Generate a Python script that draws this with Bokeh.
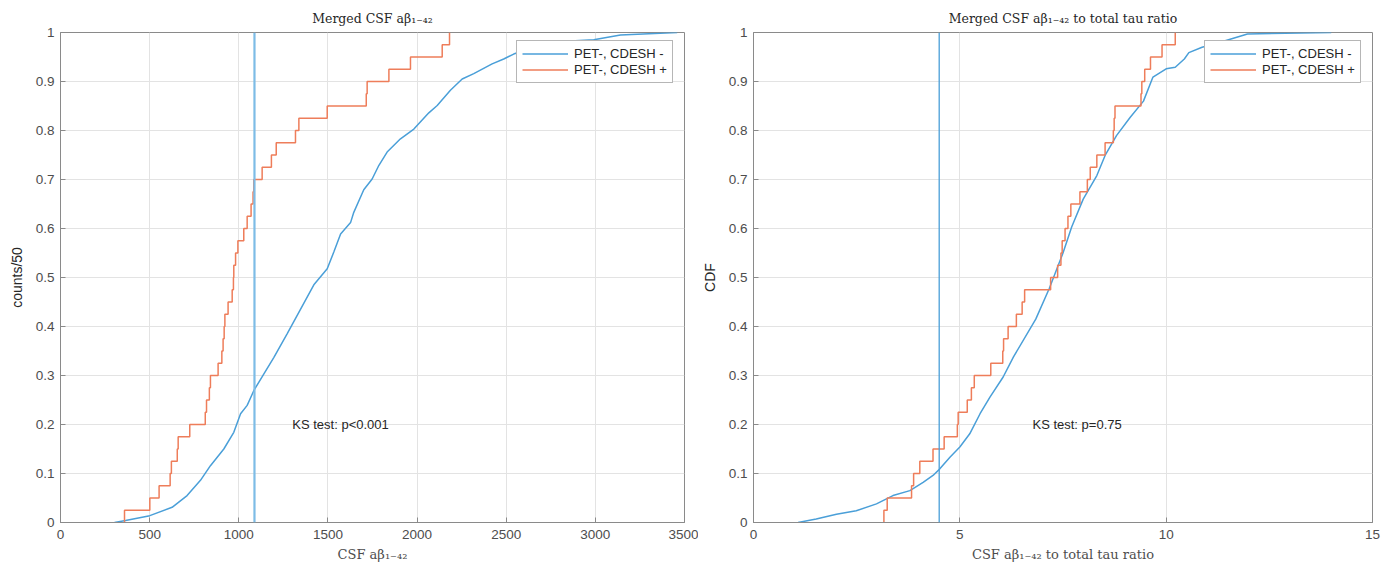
from bokeh.plotting import figure
from bokeh.layouts import row
from bokeh.models import Legend, LegendItem, Span, Label, FixedTicker, Range1d
from bokeh.embed import file_html
from bokeh.resources import INLINE

# ---------------- data ----------------
# Left panel: CSF aβ1-42, PET-, CDESH -  (empirical CDF, traced)
abeta_neg_x = [303, 365, 501, 626, 710, 785, 841, 916, 972, 1010, 1047, 1084, 1140, 1197, 1271,
               1346, 1421, 1496, 1533, 1571, 1627, 1645, 1701, 1748, 1786, 1832, 1907, 1982,
               2066, 2113, 2187, 2253, 2318, 2421, 2486, 2542, 2730, 2991, 3141, 3459]
abeta_neg_y = [0, 0.004, 0.014, 0.031, 0.055, 0.086, 0.116, 0.150, 0.184, 0.222, 0.239, 0.269,
               0.303, 0.337, 0.385, 0.435, 0.485, 0.518, 0.552, 0.589, 0.612, 0.633, 0.679,
               0.701, 0.729, 0.756, 0.783, 0.803, 0.836, 0.851, 0.882, 0.905, 0.916, 0.936,
               0.946, 0.956, 0.980, 0.985, 0.995, 1.0]
# Left panel: PET-, CDESH +  (40 sorted sample values)
abeta_pos = [359, 501, 553, 615, 622, 655, 660, 725, 812, 819, 835, 841, 884, 905, 912, 918,
             922, 940, 963, 970, 972, 982, 995, 1028, 1047, 1069, 1080, 1084, 1131, 1183,
             1210, 1318, 1337, 1496, 1715, 1720, 1842, 1963, 2141, 2182]
abeta_cut = 1088

# Right panel: CSF aβ1-42 / total tau ratio, PET-, CDESH -
ratio_neg_x = [1.08, 1.52, 2.01, 2.49, 2.98, 3.38, 3.79, 4.11, 4.35, 4.51, 4.76, 5.0, 5.24, 5.49,
               5.73, 6.05, 6.30, 6.84, 7.17, 7.50, 7.71, 7.99, 8.32, 8.52, 8.80, 9.13, 9.45,
               9.68, 10.0, 10.22, 10.44, 10.55, 10.87, 11.31, 11.97, 14.0]
ratio_neg_y = [0, 0.007, 0.017, 0.024, 0.038, 0.055, 0.065, 0.082, 0.096, 0.109, 0.133, 0.154,
               0.181, 0.222, 0.256, 0.297, 0.338, 0.415, 0.478, 0.55, 0.603, 0.66, 0.708,
               0.749, 0.79, 0.827, 0.86, 0.909, 0.926, 0.929, 0.946, 0.959, 0.97, 0.98,
               0.997, 1.0]
ratio_pos = [3.16, 3.24, 3.83, 3.88, 4.03, 4.35, 4.62, 4.94, 4.96, 5.18, 5.28, 5.35, 5.75,
             6.04, 6.06, 6.17, 6.37, 6.51, 6.57, 7.20, 7.37, 7.45, 7.48, 7.55, 7.62, 7.69,
             7.91, 8.09, 8.16, 8.32, 8.52, 8.72, 8.74, 8.76, 9.39, 9.41, 9.48, 9.62, 9.90, 10.22]
ratio_cut = 4.5

series_labels = ["PET-, CDESH -", "PET-, CDESH +"]
y_ticks = [0, 0.1, 0.2, 0.3, 0.4, 0.5, 0.6, 0.7, 0.8, 0.9, 1]
y_tick_labels = ["0", "0.1", "0.2", "0.3", "0.4", "0.5", "0.6", "0.7", "0.8", "0.9", "1"]
abeta_x_ticks = [0, 500, 1000, 1500, 2000, 2500, 3000, 3500]
ratio_x_ticks = [0, 5, 10, 15]

BLUE = "#4a9fd8"
RED = "#ee7d5a"
CUT_BLUE = "#7dbce6"
TXT = "#262626"
TICK_TXT = "#4d4d4d"
AX = "#8a8a8a"
GRID = "#e3e3e3"


def ecdf_steps(vals):
    n = len(vals)
    xs = [vals[0]] + list(vals)
    ys = [0.0] + [(i + 1) / n for i in range(n)]
    return xs, ys


def panel(title, xlabel, ylabel, xmax, xticks, neg_x, neg_y, pos_vals, cut, cut_w,
          ks_text, ks_x, frame_w, border_left, border_right):
    p = figure(frame_width=frame_w, frame_height=490,
               x_range=Range1d(0, xmax), y_range=Range1d(0, 1),
               output_backend="svg", toolbar_location=None,
               min_border_left=border_left, min_border_right=border_right,
               min_border_top=32, min_border_bottom=42)
    p.background_fill_color = "white"
    p.border_fill_color = "white"
    p.outline_line_color = AX
    p.outline_line_width = 1

    p.title.text = title
    p.title.align = "center"
    p.title.text_font = "DejaVu Serif"
    p.title.text_font_size = "12.5px"
    p.title.text_font_style = "normal"
    p.title.text_color = TXT
    p.title.standoff = 14

    xt = FixedTicker(ticks=xticks)
    yt = FixedTicker(ticks=y_ticks)
    p.xaxis.ticker = xt
    p.yaxis.ticker = yt
    p.yaxis.major_label_overrides = {t: l for t, l in zip(y_ticks, y_tick_labels)}
    for ax in (p.xaxis[0], p.yaxis[0]):
        ax.major_tick_in = 5
        ax.major_tick_out = 0
        ax.minor_tick_line_color = None
        ax.axis_line_color = AX
        ax.major_tick_line_color = AX
        ax.major_label_text_font = "Liberation Sans"
        ax.major_label_text_font_size = "13.5px"
        ax.major_label_text_color = TICK_TXT
    p.xaxis.major_label_standoff = 7
    p.yaxis.major_label_standoff = 6
    p.xaxis.axis_label = xlabel
    p.xaxis.axis_label_text_font = "DejaVu Serif"
    p.xaxis.axis_label_text_font_size = "13px"
    p.xaxis.axis_label_text_font_style = "normal"
    p.xaxis.axis_label_text_color = TICK_TXT
    p.xaxis.axis_label_standoff = 5
    p.yaxis.axis_label = ylabel
    p.yaxis.axis_label_text_font = "Liberation Sans"
    p.yaxis.axis_label_text_font_size = "14px"
    p.yaxis.axis_label_text_font_style = "normal"
    p.yaxis.axis_label_text_color = TXT
    p.yaxis.axis_label_standoff = 8

    p.xgrid.ticker = xt
    p.ygrid.ticker = yt
    p.xgrid.grid_line_color = GRID
    p.ygrid.grid_line_color = GRID

    blue = p.line(neg_x, neg_y, line_color=BLUE, line_width=1.5)
    sx, sy = ecdf_steps(pos_vals)
    red = p.step(sx, sy, mode="after", line_color=RED, line_width=1.5)

    p.add_layout(Span(location=cut, dimension="height", line_color=CUT_BLUE if cut_w > 1.5 else BLUE,
                      line_width=cut_w))

    p.add_layout(Label(x=ks_x, y=0.2, text=ks_text, text_baseline="middle",
                       text_font="Liberation Sans", text_font_size="13px", text_color=TXT))

    leg = Legend(items=[LegendItem(label=series_labels[0], renderers=[blue]),
                        LegendItem(label=series_labels[1], renderers=[red])],
                 location=(frame_w - 168, 439))
    leg.border_line_color = "#6e6e6e"
    leg.border_line_width = 1
    leg.background_fill_color = "white"
    leg.background_fill_alpha = 1
    leg.label_text_font = "Liberation Sans"
    leg.label_text_font_size = "13px"
    leg.label_text_color = TXT
    leg.glyph_width = 46
    leg.glyph_height = 15
    leg.label_height = 15
    leg.label_standoff = 6
    leg.spacing = 1
    leg.padding = 5
    leg.margin = 0
    p.add_layout(leg)
    return p


left = panel("Merged CSF aβ₁₋₄₂", "CSF aβ₁₋₄₂", "counts/50", 3500, abeta_x_ticks,
             abeta_neg_x, abeta_neg_y, abeta_pos, abeta_cut, 2.2,
             "KS test: p<0.001", 1300, 624, 60, 14)
right = panel("Merged CSF aβ₁₋₄₂ to total tau ratio", "CSF aβ₁₋₄₂ to total tau ratio", "CDF", 15,
              ratio_x_ticks, ratio_neg_x, ratio_neg_y, ratio_pos, ratio_cut, 1.3,
              "KS test: p=0.75", 6.76, 619, 52, 17)

layout = row(left, right)
open("out.html", "w").write(file_html(layout, INLINE))
